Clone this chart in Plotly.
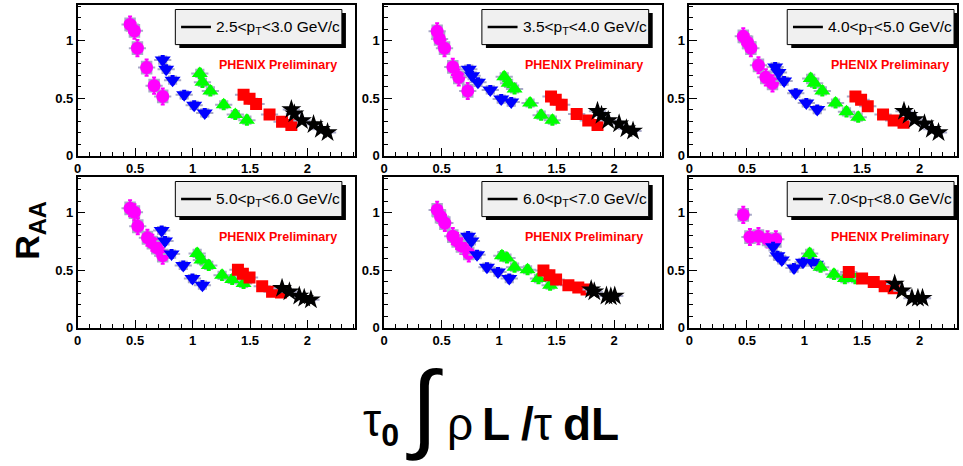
import plotly.graph_objects as go

# ---------------- data ----------------
PT_BINS = ["2.5&lt;p<sub>T</sub>&lt;3.0 GeV/c", "3.5&lt;p<sub>T</sub>&lt;4.0 GeV/c",
           "4.0&lt;p<sub>T</sub>&lt;5.0 GeV/c", "5.0&lt;p<sub>T</sub>&lt;6.0 GeV/c",
           "6.0&lt;p<sub>T</sub>&lt;7.0 GeV/c", "7.0&lt;p<sub>T</sub>&lt;8.0 GeV/c"]

MAG_X = [[0.456, 0.494, 0.52, 0.60, 0.665, 0.74],
         [0.461, 0.482, 0.525, 0.597, 0.649, 0.727],
         [0.468, 0.505, 0.534, 0.60, 0.664, 0.722],
         [0.456, 0.494, 0.523, 0.607, 0.65, 0.688, 0.74],
         [0.461, 0.49, 0.528, 0.597, 0.635, 0.672, 0.736],
         [0.468, 0.526, 0.60, 0.679, 0.751]]
MAG_Y = [[1.14, 1.085, 0.934, 0.765, 0.608, 0.514],
         [1.08, 1.014, 0.934, 0.771, 0.68, 0.562],
         [1.037, 0.985, 0.934, 0.785, 0.68, 0.628],
         [1.037, 1.003, 0.881, 0.781, 0.738, 0.696, 0.625],
         [1.023, 0.966, 0.909, 0.795, 0.753, 0.71, 0.645],
         [0.98, 0.787, 0.795, 0.767, 0.767]]

BLUE_X = [[0.74, 0.77, 0.826, 0.927, 1.014, 1.106],
          [0.736, 0.765, 0.816, 0.923, 1.018, 1.105],
          [0.745, 0.774, 0.823, 0.924, 1.016, 1.111],
          [0.731, 0.76, 0.817, 0.919, 0.999, 1.086],
          [0.73, 0.759, 0.808, 0.894, 0.99, 1.088],
          [0.727, 0.765, 0.803, 0.909, 0.987, 1.068, 1.10]]
BLUE_Y = [[0.83, 0.75, 0.656, 0.528, 0.437, 0.371],
          [0.751, 0.694, 0.637, 0.571, 0.491, 0.465],
          [0.771, 0.722, 0.648, 0.542, 0.457, 0.40],
          [0.844, 0.753, 0.639, 0.54, 0.426, 0.369],
          [0.795, 0.753, 0.633, 0.525, 0.483, 0.426],
          [0.702, 0.625, 0.588, 0.517, 0.568, 0.568, 0.55]]

GREEN_X = [[1.063, 1.086, 1.155, 1.271, 1.372, 1.473],
           [1.044, 1.082, 1.134, 1.269, 1.365, 1.463],
           [1.054, 1.088, 1.155, 1.27, 1.365, 1.467],
           [1.04, 1.077, 1.141, 1.257, 1.345, 1.444],
           [1.024, 1.068, 1.134, 1.247, 1.342, 1.443],
           [1.045, 1.14, 1.256, 1.351, 1.443]]
GREEN_Y = [[0.714, 0.637, 0.562, 0.442, 0.357, 0.308],
           [0.685, 0.628, 0.579, 0.457, 0.351, 0.308],
           [0.671, 0.628, 0.562, 0.457, 0.38, 0.334],
           [0.645, 0.588, 0.54, 0.454, 0.418, 0.384],
           [0.625, 0.605, 0.525, 0.503, 0.426, 0.369],
           [0.645, 0.525, 0.463, 0.426, 0.426]]

RED_X = [[1.444, 1.496, 1.553, 1.67, 1.779, 1.86],
         [1.451, 1.492, 1.544, 1.674, 1.775, 1.855],
         [1.443, 1.492, 1.55, 1.683, 1.775, 1.861],
         [1.395, 1.438, 1.496, 1.606, 1.692, 1.77],
         [1.385, 1.437, 1.495, 1.602, 1.688, 1.76],
         [1.385, 1.501, 1.602, 1.697, 1.775]]
RED_Y = [[0.528, 0.494, 0.448, 0.357, 0.294, 0.266],
         [0.514, 0.485, 0.442, 0.362, 0.305, 0.266],
         [0.514, 0.485, 0.428, 0.357, 0.305, 0.285],
         [0.503, 0.469, 0.435, 0.36, 0.312, 0.304],
         [0.497, 0.454, 0.418, 0.369, 0.349, 0.332],
         [0.483, 0.426, 0.397, 0.36, 0.341]]

STAR_X = [[1.86, 1.886, 1.952, 2.053, 2.117, 2.175],
          [1.855, 1.89, 1.948, 2.043, 2.106, 2.164],
          [1.865, 1.905, 1.957, 2.043, 2.107, 2.165],
          [1.779, 1.843, 1.929, 1.972, 2.03],
          [1.80, 1.827, 1.933, 1.971, 2.005],
          [1.784, 1.847, 1.934, 1.986, 2.026]]
STAR_Y = [[0.40, 0.363, 0.305, 0.271, 0.228, 0.20],
          [0.386, 0.35, 0.305, 0.277, 0.234, 0.214],
          [0.386, 0.351, 0.314, 0.277, 0.228, 0.20],
          [0.341, 0.312, 0.275, 0.256, 0.241],
          [0.33, 0.312, 0.275, 0.269, 0.275],
          [0.378, 0.321, 0.256, 0.256, 0.256]]

# per-species uncertainties (stat, horizontal, syst box half-width / half-height)
STAT_ERR = [0.07, 0.035, 0.04, 0.025, 0.02]
HORIZ_ERR = [0.075, 0.075, 0.075, 0.075, 0.075]
SYS_DX = [0.05, 0.04, 0.04, 0.04, 0.04]
SYS_DY = [0.06, 0.04, 0.04, 0.03, 0.025]

# ---------------- style ----------------
SPECIES = [
    (MAG_X, MAG_Y, "#ff00ff", "circle", 13),
    (BLUE_X, BLUE_Y, "#0000ff", "triangle-down", 14),
    (GREEN_X, GREEN_Y, "#00ff00", "triangle-up", 14),
    (RED_X, RED_Y, "#ff0000", "square", 12),
    (STAR_X, STAR_Y, "#000000", "star", 15),
]
GREY = "#a9a9c8"
FONT = "Liberation Sans, Arial, sans-serif"
W, H = 963, 466

col_px = [(74.0, 352.0), (381.7, 661.0), (688.3, 957.0)]
row_px = [(5.0, 158.3), (180.0, 333.3)]
xmax = [2.41, 2.418, 2.326]
YMAX = 1.31

fig = go.Figure()
layout = dict(width=W, height=H, margin=dict(l=0, r=0, t=0, b=0),
              paper_bgcolor="white", plot_bgcolor="white", showlegend=False,
              barmode="overlay")
shapes, annotations = [], []

for p in range(6):
    r, c = divmod(p, 3)
    k = p + 1
    xa = "x" if k == 1 else f"x{k}"
    ya = "y" if k == 1 else f"y{k}"
    xl = "xaxis" if k == 1 else f"xaxis{k}"
    yl = "yaxis" if k == 1 else f"yaxis{k}"
    x0, x1 = col_px[c]
    y0, y1 = row_px[r]
    axis_common = dict(showline=True, linecolor="black", linewidth=1.5, mirror=True,
                       showgrid=False, zeroline=False, ticks="inside", ticklen=8,
                       tickcolor="black", tickwidth=1, tick0=0, dtick=0.5,
                       tickfont=dict(family=FONT, size=13, color="black", weight="bold"),
                       minor=dict(ticks="inside", ticklen=4, dtick=0.1, tick0=0,
                                  tickcolor="black", showgrid=False))
    layout[xl] = dict(axis_common, domain=[x0 / W, x1 / W], anchor=ya,
                      range=[0, xmax[c]])
    layout[yl] = dict(axis_common, domain=[1 - y1 / H, 1 - y0 / H], anchor=xa,
                      range=[0, YMAX])

    # systematic boxes
    for s, (XS, YS, col, sym, sz) in enumerate(SPECIES):
        xs, ys = XS[p], YS[p]
        fig.add_trace(go.Bar(x=xs, y=[2 * SYS_DY[s]] * len(xs),
                             base=[v - SYS_DY[s] for v in ys],
                             width=[2 * SYS_DX[s]] * len(xs),
                             marker=dict(color=GREY, line=dict(width=0)),
                             hoverinfo="skip", xaxis=xa, yaxis=ya))
    # points
    for s, (XS, YS, col, sym, sz) in enumerate(SPECIES):
        xs, ys = XS[p], YS[p]
        fig.add_trace(go.Scatter(
            x=xs, y=ys, mode="markers",
            marker=dict(color=col, symbol=sym, size=sz, line=dict(width=0)),
            error_x=dict(type="constant", value=HORIZ_ERR[s], color=GREY,
                         thickness=2, width=0),
            error_y=dict(type="constant", value=STAT_ERR[s], color=col,
                         thickness=2, width=2),
            xaxis=xa, yaxis=ya))

    # legend box with shadow
    shapes.append(dict(type="rect", xref=xa, yref=ya, x0=0.885, x1=2.335,
                       y0=0.935, y1=1.24, fillcolor="black", line=dict(width=0),
                       layer="above"))
    shapes.append(dict(type="rect", xref=xa, yref=ya, x0=0.85, x1=2.30,
                       y0=0.965, y1=1.27, fillcolor="#f0f0f0",
                       line=dict(color="black", width=1), layer="above"))
    shapes.append(dict(type="line", xref=xa, yref=ya, x0=0.90, x1=1.16,
                       y0=1.117, y1=1.117, line=dict(color="black", width=2.5),
                       layer="above"))
    annotations.append(dict(xref=xa, yref=ya, x=1.19, y=1.117, text=PT_BINS[p],
                            showarrow=False, xanchor="left", yanchor="middle",
                            font=dict(family=FONT, size=15.5, color="black")))
    annotations.append(dict(xref=xa, yref=ya, x=1.21, y=0.785,
                            text="PHENIX Preliminary", showarrow=False,
                            xanchor="left", yanchor="middle",
                            font=dict(family=FONT, size=12.5, color="#ff0000",
                                      weight="bold")))

# y-axis title
annotations.append(dict(xref="paper", yref="paper", x=26 / W, y=1 - 234 / H,
                        text="<b>R<sub>AA</sub></b>", showarrow=False, textangle=-90,
                        xanchor="center", yanchor="middle",
                        font=dict(family=FONT, size=34, color="black")))
# x-axis title pieces
def piece(txt, xpx, ypx, size, bold=False):
    annotations.append(dict(xref="paper", yref="paper", x=xpx / W, y=1 - ypx / H,
                            text=txt, showarrow=False, xanchor="left",
                            yanchor="middle",
                            font=dict(family=FONT, size=size, color="black",
                                      weight="bold" if bold else "normal")))

piece("τ<sub><b>0</b></sub>", 358, 431, 46)
piece("∫", 402, 413, 98)
piece("ρ", 443, 431, 46)
piece("<b>L</b>", 478, 431, 46)
piece("<b>/</b>τ", 517, 431, 46)
piece("<b>dL</b>", 559, 431, 46)

layout["shapes"] = shapes
layout["annotations"] = annotations
fig.update_layout(**layout)
fig.write_html("out.html")
